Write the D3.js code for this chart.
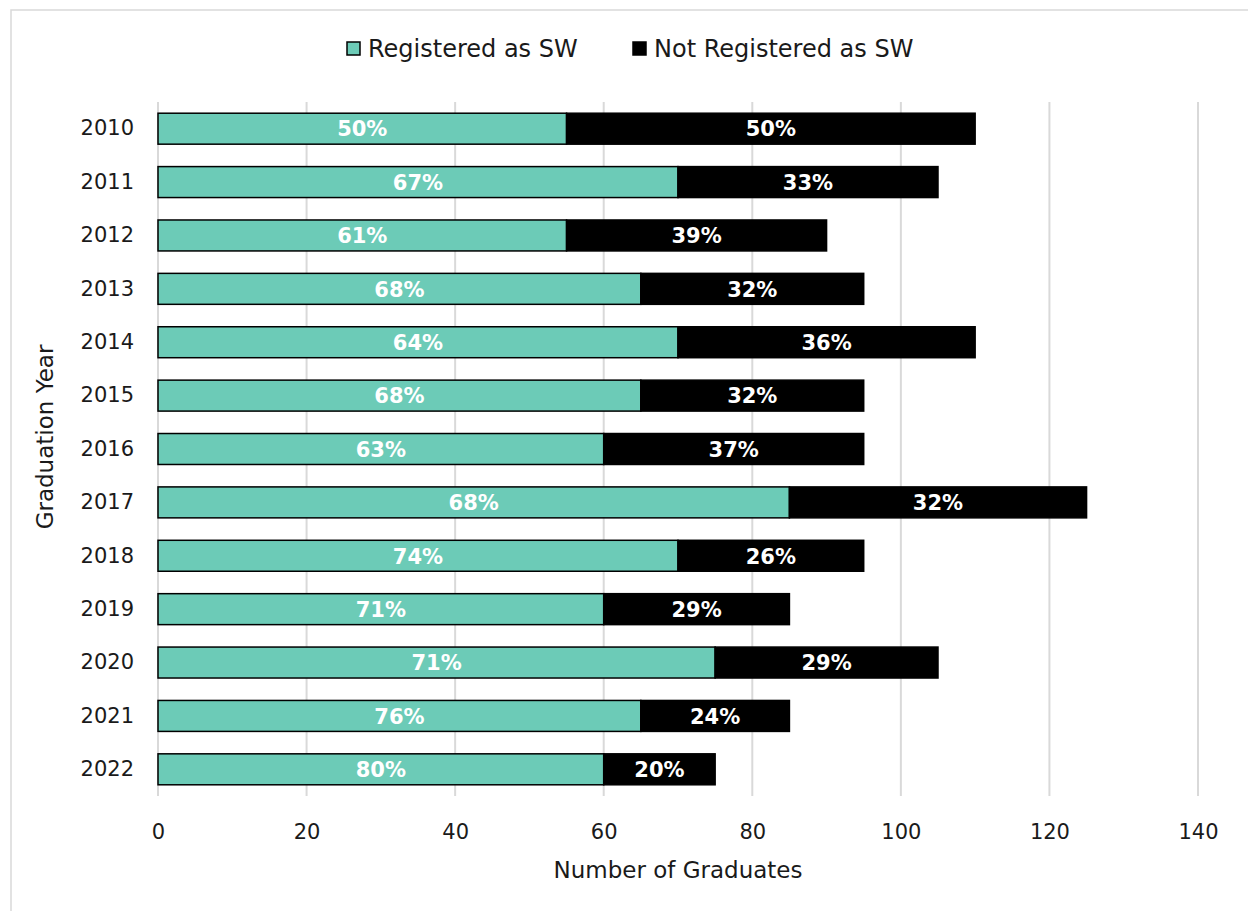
<!DOCTYPE html>
<html><head><meta charset="utf-8">
<script src="https://cdn.jsdelivr.net/npm/d3@7"></script>
<style>
html,body{margin:0;padding:0;background:#fff;}
svg{display:block;}
text{font-family:"Century Gothic","DejaVu Sans",sans-serif;}
</style></head>
<body>
<svg id="chart" width="1248" height="911"></svg>
<script>
const years = ["2010","2011","2012","2013","2014","2015","2016","2017","2018","2019","2020","2021","2022"];
const registered = [55,70,55,65,70,65,60,85,70,60,75,65,60];
const notRegistered = [55,35,35,30,40,30,35,40,25,25,30,20,15];
const pctRegistered = ["50%","67%","61%","68%","64%","68%","63%","68%","74%","71%","71%","76%","80%"];
const pctNotRegistered = ["50%","33%","39%","32%","36%","32%","37%","32%","26%","29%","29%","24%","20%"];
const xTicks = [0,20,40,60,80,100,120,140];
const seriesNames = ["Registered as SW","Not Registered as SW"];
const colors = ["#6CCBB7","#000000"];

const svg = d3.select("#chart");
svg.append("rect").attr("x",11).attr("y",10).attr("width",1250).attr("height",920)
  .attr("fill","#fff").attr("stroke","#d9d9d9").attr("stroke-width",1.5);

const pL=158, pR=1198, pT=102, pB=796;
const x = d3.scaleLinear().domain([0,140]).range([pL,pR]);
const y = d3.scaleBand().domain(years).range([pT,pB]).paddingInner(0.42).paddingOuter(0.21);

svg.append("g").selectAll("line").data(xTicks).join("line")
  .attr("x1",d=>x(d)).attr("x2",d=>x(d)).attr("y1",pT).attr("y2",pB)
  .attr("stroke","#d9d9d9").attr("stroke-width",2);

const data = years.map((yr,i)=>({yr, a:registered[i], b:notRegistered[i], pa:pctRegistered[i], pb:pctNotRegistered[i]}));

const g = svg.append("g");
g.selectAll("rect.a").data(data).join("rect").attr("class","a")
  .attr("x",x(0)).attr("y",d=>y(d.yr)).attr("width",d=>x(d.a)-x(0)).attr("height",y.bandwidth())
  .attr("fill",colors[0]).attr("stroke","#000").attr("stroke-width",1.5);
g.selectAll("rect.b").data(data).join("rect").attr("class","b")
  .attr("x",d=>x(d.a)).attr("y",d=>y(d.yr)).attr("width",d=>x(d.a+d.b)-x(d.a)).attr("height",y.bandwidth())
  .attr("fill",colors[1]).attr("stroke","#000").attr("stroke-width",1.5);

g.selectAll("text.la").data(data).join("text").attr("class","la")
  .attr("x",d=>(x(0)+x(d.a))/2).attr("y",d=>y(d.yr)+y.bandwidth()/2).attr("dy","0.37em")
  .attr("text-anchor","middle").attr("fill","#fff").attr("font-weight","bold").attr("font-size",21)
  .text(d=>d.pa);
g.selectAll("text.lb").data(data).join("text").attr("class","lb")
  .attr("x",d=>(x(d.a)+x(d.a+d.b))/2).attr("y",d=>y(d.yr)+y.bandwidth()/2).attr("dy","0.37em")
  .attr("text-anchor","middle").attr("fill","#fff").attr("font-weight","bold").attr("font-size",21)
  .text(d=>d.pb);

const yAxis = d3.axisLeft(y).tickSize(0).tickPadding(24);
const ya = svg.append("g").attr("transform",`translate(${pL},0)`).call(yAxis);
ya.select(".domain").remove();
ya.selectAll("text").attr("font-size",21).attr("fill","#1a1a1a").attr("font-family",null);

const xAxis = d3.axisBottom(x).tickValues(xTicks).tickSize(0).tickPadding(28);
const xa = svg.append("g").attr("transform",`translate(0,${pB})`).call(xAxis);
xa.select(".domain").remove();
xa.selectAll("text").attr("font-size",21).attr("fill","#1a1a1a").attr("font-family",null);

svg.append("text").attr("x",(pL+pR)/2).attr("y",878).attr("text-anchor","middle")
  .attr("font-size",23).attr("fill","#1a1a1a").text("Number of Graduates");
svg.append("text").attr("transform","translate(53,437) rotate(-90)").attr("text-anchor","middle")
  .attr("font-size",23).attr("fill","#1a1a1a").text("Graduation Year");

const legendX = [347, 633];
const lg = svg.append("g");
seriesNames.forEach((n,i)=>{
  lg.append("rect").attr("x",legendX[i]).attr("y",42).attr("width",13).attr("height",13)
    .attr("fill",colors[i]).attr("stroke","#000").attr("stroke-width",1.5);
  lg.append("text").attr("x",legendX[i]+21).attr("y",57)
    .attr("font-size",24).attr("fill","#1a1a1a").text(n);
});
</script>
</body></html>
